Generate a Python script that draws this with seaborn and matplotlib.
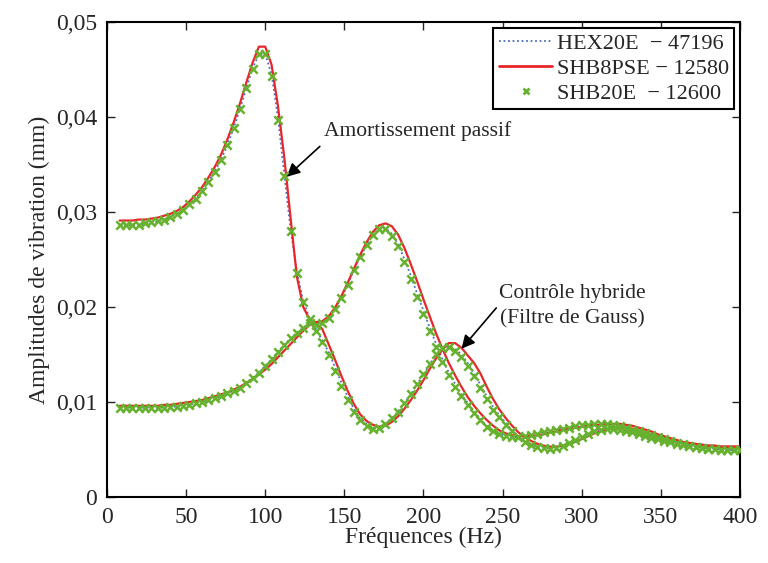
import numpy as np
import pandas as pd
import seaborn as sns
import matplotlib
matplotlib.use("Agg")
import matplotlib.pyplot as plt
from matplotlib import ticker
from matplotlib.lines import Line2D

# frequency grid (Hz), one point every 4 Hz
freq = np.arange(8, 401, 4)

# amortissement passif
shb20e_passif = [
    0.0286, 0.0286, 0.0286, 0.0286, 0.0288, 0.0289, 0.0290, 0.0292, 0.0295, 0.0298,
    0.0302, 0.0308, 0.0314, 0.0322, 0.0332, 0.0342, 0.0355, 0.0370, 0.0388, 0.0408,
    0.0430, 0.0451, 0.0466, 0.0466, 0.0443, 0.0397, 0.0338, 0.0280, 0.0236, 0.0205,
    0.0187, 0.0175, 0.0163, 0.0149, 0.0133, 0.0117, 0.0102, 0.0090, 0.0081, 0.0075,
    0.0072, 0.0073, 0.0077, 0.0083, 0.0090, 0.0099, 0.0108, 0.0119, 0.0129, 0.0140,
    0.0150, 0.0157, 0.0158, 0.0154, 0.0147, 0.0138, 0.0127, 0.0115, 0.0103, 0.0092,
    0.0084, 0.0076, 0.0069, 0.0063, 0.0058, 0.0055, 0.0053, 0.0052, 0.0051, 0.0052,
    0.0054, 0.0057, 0.0060, 0.0063, 0.0066, 0.0069, 0.0071, 0.0072, 0.0072, 0.0071,
    0.0070, 0.0068, 0.0066, 0.0064, 0.0062, 0.0061, 0.0059, 0.0058, 0.0056, 0.0055,
    0.0054, 0.0053, 0.0052, 0.0051, 0.0051, 0.0050, 0.0050, 0.0049, 0.0049,
]
hex20e_passif = [
    0.0286, 0.0286, 0.0286, 0.0286, 0.0288, 0.0289, 0.0290, 0.0292, 0.0295, 0.0298,
    0.0302, 0.0308, 0.0314, 0.0322, 0.0332, 0.0342, 0.0355, 0.0370, 0.0388, 0.0408,
    0.0430, 0.0451, 0.0466, 0.0466, 0.0445, 0.0400, 0.0340, 0.0282, 0.0237, 0.0206,
    0.0188, 0.0177, 0.0165, 0.0153, 0.0137, 0.0121, 0.0106, 0.0093, 0.0083, 0.0077,
    0.0073, 0.0073, 0.0077, 0.0083, 0.0090, 0.0099, 0.0108, 0.0119, 0.0129, 0.0140,
    0.0150, 0.0157, 0.0158, 0.0156, 0.0150, 0.0141, 0.0130, 0.0118, 0.0106, 0.0095,
    0.0086, 0.0078, 0.0070, 0.0064, 0.0059, 0.0055, 0.0053, 0.0052, 0.0051, 0.0052,
    0.0054, 0.0057, 0.0060, 0.0063, 0.0066, 0.0069, 0.0071, 0.0072, 0.0072, 0.0071,
    0.0070, 0.0068, 0.0066, 0.0064, 0.0062, 0.0061, 0.0059, 0.0058, 0.0056, 0.0055,
    0.0054, 0.0053, 0.0052, 0.0051, 0.0051, 0.0050, 0.0050, 0.0049, 0.0049,
]
shb8pse_passif = [
    0.0291, 0.0291, 0.0291, 0.0292, 0.0292, 0.0293, 0.0294, 0.0296, 0.0298, 0.0301,
    0.0305, 0.0311, 0.0318, 0.0326, 0.0336, 0.0347, 0.0360, 0.0376, 0.0394, 0.0414,
    0.0436, 0.0457, 0.0474, 0.0474, 0.0455, 0.0412, 0.0358, 0.0294, 0.0232, 0.0200,
    0.0187, 0.0183, 0.0177, 0.0161, 0.0145, 0.0128, 0.0112, 0.0098, 0.0087, 0.0080,
    0.0076, 0.0074, 0.0075, 0.0079, 0.0085, 0.0093, 0.0102, 0.0112, 0.0123, 0.0135,
    0.0146, 0.0155, 0.0162, 0.0162, 0.0157, 0.0149, 0.0141, 0.0130, 0.0116, 0.0103,
    0.0092, 0.0083, 0.0075, 0.0068, 0.0063, 0.0059, 0.0056, 0.0054, 0.0053, 0.0053,
    0.0054, 0.0056, 0.0058, 0.0061, 0.0064, 0.0067, 0.0069, 0.0071, 0.0073, 0.0073,
    0.0073, 0.0072, 0.0070, 0.0068, 0.0066, 0.0064, 0.0062, 0.0060, 0.0059, 0.0057,
    0.0056, 0.0055, 0.0055, 0.0054, 0.0054, 0.0053, 0.0053, 0.0053, 0.0053,
]

# controle hybride
shb20e_hybride = [
    0.0094, 0.0094, 0.0094, 0.0094, 0.0094, 0.0094, 0.0094, 0.0094, 0.0095, 0.0095,
    0.0096, 0.0097, 0.0099, 0.0100, 0.0102, 0.0104, 0.0106, 0.0109, 0.0112, 0.0115,
    0.0120, 0.0125, 0.0131, 0.0138, 0.0145, 0.0153, 0.0160, 0.0167, 0.0173, 0.0178,
    0.0183, 0.0181, 0.0183, 0.0188, 0.0198, 0.0209, 0.0223, 0.0239, 0.0253, 0.0265,
    0.0276, 0.0282, 0.0282, 0.0275, 0.0264, 0.0247, 0.0229, 0.0211, 0.0193, 0.0175,
    0.0158, 0.0142, 0.0128, 0.0116, 0.0106, 0.0097, 0.0088, 0.0081, 0.0074, 0.0069,
    0.0066, 0.0064, 0.0063, 0.0063, 0.0064, 0.0065, 0.0066, 0.0068, 0.0069, 0.0071,
    0.0072, 0.0073, 0.0075, 0.0076, 0.0076, 0.0077, 0.0077, 0.0077, 0.0076, 0.0075,
    0.0073, 0.0071, 0.0069, 0.0067, 0.0065, 0.0063, 0.0061, 0.0059, 0.0057, 0.0056,
    0.0054, 0.0053, 0.0052, 0.0051, 0.0051, 0.0050, 0.0050, 0.0049, 0.0049,
]
hex20e_hybride = [
    0.0094, 0.0094, 0.0094, 0.0094, 0.0094, 0.0094, 0.0094, 0.0094, 0.0095, 0.0095,
    0.0096, 0.0097, 0.0099, 0.0100, 0.0102, 0.0104, 0.0106, 0.0109, 0.0112, 0.0115,
    0.0120, 0.0125, 0.0131, 0.0138, 0.0145, 0.0153, 0.0160, 0.0167, 0.0173, 0.0178,
    0.0183, 0.0181, 0.0183, 0.0188, 0.0198, 0.0209, 0.0223, 0.0239, 0.0253, 0.0265,
    0.0276, 0.0282, 0.0283, 0.0277, 0.0266, 0.0250, 0.0233, 0.0214, 0.0196, 0.0178,
    0.0161, 0.0145, 0.0131, 0.0119, 0.0108, 0.0099, 0.0090, 0.0082, 0.0075, 0.0070,
    0.0066, 0.0064, 0.0063, 0.0063, 0.0064, 0.0065, 0.0066, 0.0068, 0.0069, 0.0071,
    0.0072, 0.0073, 0.0075, 0.0076, 0.0076, 0.0077, 0.0077, 0.0077, 0.0076, 0.0075,
    0.0073, 0.0071, 0.0069, 0.0067, 0.0065, 0.0063, 0.0061, 0.0059, 0.0057, 0.0056,
    0.0054, 0.0053, 0.0052, 0.0051, 0.0051, 0.0050, 0.0050, 0.0049, 0.0049,
]
shb8pse_hybride = [
    0.0096, 0.0096, 0.0096, 0.0096, 0.0096, 0.0096, 0.0096, 0.0097, 0.0097, 0.0098,
    0.0099, 0.0100, 0.0101, 0.0102, 0.0104, 0.0106, 0.0108, 0.0110, 0.0113, 0.0116,
    0.0120, 0.0124, 0.0129, 0.0134, 0.0140, 0.0147, 0.0154, 0.0161, 0.0168, 0.0175,
    0.0181, 0.0184, 0.0185, 0.0190, 0.0199, 0.0211, 0.0225, 0.0240, 0.0255, 0.0268,
    0.0279, 0.0286, 0.0288, 0.0285, 0.0276, 0.0262, 0.0245, 0.0227, 0.0208, 0.0190,
    0.0172, 0.0156, 0.0141, 0.0128, 0.0116, 0.0105, 0.0096, 0.0088, 0.0081, 0.0075,
    0.0070, 0.0067, 0.0065, 0.0064, 0.0064, 0.0064, 0.0065, 0.0066, 0.0068, 0.0069,
    0.0071, 0.0072, 0.0073, 0.0074, 0.0075, 0.0076, 0.0076, 0.0077, 0.0077, 0.0077,
    0.0076, 0.0075, 0.0073, 0.0071, 0.0069, 0.0066, 0.0064, 0.0062, 0.0060, 0.0058,
    0.0057, 0.0056, 0.0055, 0.0054, 0.0054, 0.0053, 0.0053, 0.0053, 0.0053,
]

labels = ["HEX20E  \u2212 47196", "SHB8PSE \u2212 12580", "SHB20E  \u2212 12600"]
c_hex = "#4a6cc4"
c_shb8 = "#e8262b"
c_shb20 = "#66b22e"

sns.set_style("ticks")
plt.rcParams["font.family"] = ["Liberation Serif", "DejaVu Serif"]

fig = plt.figure(figsize=(7.68, 5.63), dpi=100)
ax = fig.add_axes([0.1393, 0.1172, 0.8242, 0.8438])

for hex_v, shb8_v, shb20_v in [(hex20e_passif, shb8pse_passif, shb20e_passif),
                               (hex20e_hybride, shb8pse_hybride, shb20e_hybride)]:
    df = pd.DataFrame({"f": freq, "hex": hex_v, "shb8": shb8_v, "shb20": shb20_v})
    sns.lineplot(data=df, x="f", y="hex", ax=ax, color=c_hex, lw=1.3,
                 linestyle=(0, (1, 1.5)), zorder=2)
    sns.lineplot(data=df, x="f", y="shb8", ax=ax, color=c_shb8, lw=1.6, zorder=3)
    sns.scatterplot(data=df, x="f", y="shb20", ax=ax, color=c_shb20, marker="x",
                    s=36, linewidth=1.8, zorder=4)

ax.set_xlim(0, 400)
ax.set_ylim(0, 0.05)
ax.set_xticks(np.arange(0, 401, 50))
ax.set_yticks(np.arange(0, 0.051, 0.01))
ax.yaxis.set_major_formatter(ticker.FuncFormatter(
    lambda v, p: "0" if abs(v) < 1e-9 else f"{v:.2f}".replace(".", ",")))
ax.tick_params(direction="in", length=6, width=1, top=True, right=True,
               labelsize=17, pad=7)
for s in ax.spines.values():
    s.set_linewidth(1.5)
    s.set_color("black")

ax.set_xlabel("Fréquences (Hz)", fontsize=17, labelpad=-1)
ax.set_ylabel("Amplitudes de vibration (mm)", fontsize=17, labelpad=4)

# annotations: arrows and texts placed separately
ax.annotate("", xy=(113.5, 0.0337), xytext=(134.5, 0.0369),
            arrowprops=dict(arrowstyle="-|>", color="k", lw=1.2,
                            mutation_scale=20, shrinkA=0, shrinkB=0))
ax.text(137, 0.0385, "Amortissement passif", fontsize=15.5, va="center", ha="left")
ax.annotate("", xy=(224, 0.0156), xytext=(246, 0.0199),
            arrowprops=dict(arrowstyle="-|>", color="k", lw=1.2,
                            mutation_scale=20, shrinkA=0, shrinkB=0))
ax.text(247.5, 0.0201, "Contrôle hybride\n(Filtre de Gauss)", fontsize=15.5,
        va="center", ha="left", multialignment="center", linespacing=1.45)

legend_elements = [
    Line2D([0], [0], color=c_hex, lw=1.3, linestyle=(0, (1, 1.5)), label=labels[0]),
    Line2D([0], [0], color=c_shb8, lw=2.0, label=labels[1]),
    Line2D([0], [0], color=c_shb20, lw=0, marker="x", markersize=5,
           markeredgewidth=1.9, label=labels[2]),
]
leg = ax.legend(handles=legend_elements, loc="upper right", fontsize=16,
                frameon=True, fancybox=False, framealpha=1, edgecolor="black",
                borderaxespad=0.25, handlelength=2.4, handletextpad=0.2,
                labelspacing=0.2, borderpad=0.25)
leg.get_frame().set_linewidth(1.5)

fig.savefig("out.png", dpi=100)
